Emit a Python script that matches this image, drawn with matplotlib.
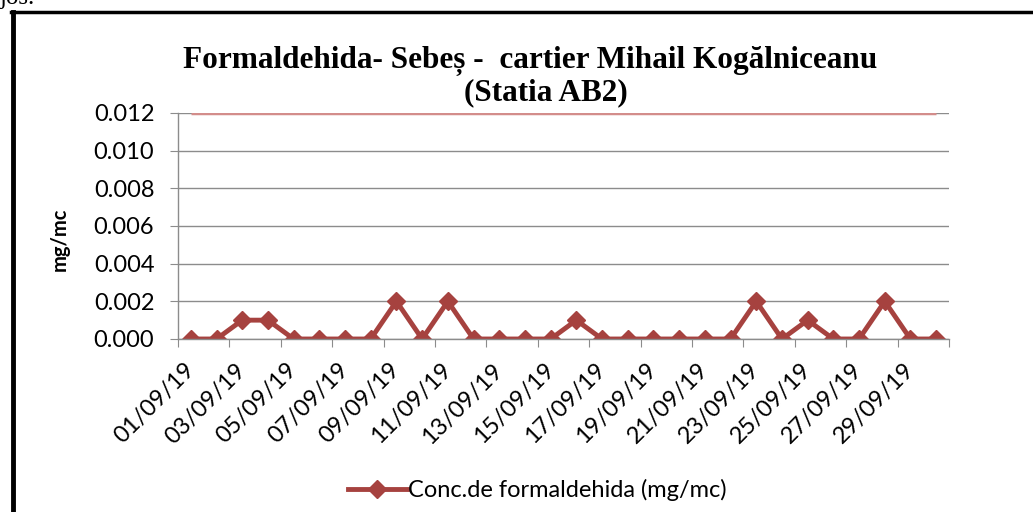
import numpy as np
import matplotlib.pyplot as plt
from matplotlib.lines import Line2D

# -- data -- #
dates = ['%02d/09/19' % d for d in range(1, 31)]
conc = [0, 0, 0.001, 0.001, 0, 0, 0, 0, 0.002, 0,
        0.002, 0, 0, 0, 0, 0.001, 0, 0, 0, 0,
        0, 0, 0.002, 0, 0.001, 0, 0, 0.002, 0, 0]
limit = [0.012] * 30
yticks = [0.000, 0.002, 0.004, 0.006, 0.008, 0.010, 0.012]

title_1 = 'Formaldehida- Sebeș -  cartier Mihail Kogălniceanu'
title_2 = '(Statia AB2)'
series_label = 'Conc.de formaldehida (mg/mc)'

SANS = ['Lato', 'DejaVu Sans']
SERIF = ['Liberation Serif', 'DejaVu Serif']
GRID = '#8c8c8c'
FS = 17

fig = plt.figure(figsize=(10.33, 5.12), dpi=100)
ax = fig.add_axes([0.1723, 0.3379, 0.7464, 0.4414])

x = np.arange(len(dates))
ax.plot(x, limit, color='#D38D8B', lw=2.5, solid_capstyle='butt')
line, = ax.plot(x, conc, color='#A6423F', lw=3.5, marker='D', ms=9,
                markerfacecolor='#A6423F', markeredgecolor='#A6423F',
                label=series_label)

ax.set_xlim(-0.5, len(dates) - 0.5)
ax.set_ylim(0, 0.012)
ax.set_yticks(yticks)
ax.set_yticklabels(['%.3f' % v for v in yticks], fontfamily=SANS, fontsize=FS)

# ticks between categories, labels every second day
ax.set_xticks(np.arange(-0.5, len(dates), 2))
ax.set_xticklabels([])
ax.set_xticks(x[::2], minor=True)
ax.set_xticklabels(dates[::2], minor=True, rotation=45, ha='right',
                   va='center', rotation_mode='anchor', fontfamily=SANS,
                   fontsize=FS)
ax.tick_params(axis='x', which='minor', length=0, pad=20)
ax.tick_params(axis='x', which='major', length=6, color=GRID, direction='out')
ax.tick_params(axis='y', length=6, color=GRID, direction='out', pad=11)

ax.yaxis.grid(True, color=GRID, lw=1.0)
ax.set_axisbelow(True)
for s in ['top', 'right']:
    ax.spines[s].set_visible(False)
for s in ['left', 'bottom']:
    ax.spines[s].set_color(GRID)
    ax.spines[s].set_linewidth(1.0)

ax.set_ylabel('mg/mc', fontfamily=SANS, fontsize=14.5, fontweight='bold')
ax.yaxis.set_label_coords(-0.141, 0.44)

fig.text(530 / 1033, 1 - 68 / 512, title_1, ha='center', va='baseline',
         fontfamily=SERIF, fontsize=22.5, fontweight='bold')
fig.text(546 / 1033, 1 - 100 / 512, title_2, ha='center', va='baseline',
         fontfamily=SERIF, fontsize=22.5, fontweight='bold')

fig.legend(handles=[line], loc='center', bbox_to_anchor=(0.52, 0.043),
           frameon=False, prop={'family': SANS, 'size': FS},
           handlelength=2.5, handletextpad=0.05)

# document frame around the chart
fig.add_artist(Line2D([0.0125, 0.0125], [0.0, 0.977], color='black', lw=3.5,
                      transform=fig.transFigure))
fig.add_artist(Line2D([0.0105, 1.0], [0.976, 0.976], color='black', lw=2.5,
                      transform=fig.transFigure))
fig.text(0.0, 1 - 4 / 512, 'jos.', ha='left', va='baseline',
         fontfamily=SERIF, fontsize=18)

fig.savefig('out.png', dpi=100)
